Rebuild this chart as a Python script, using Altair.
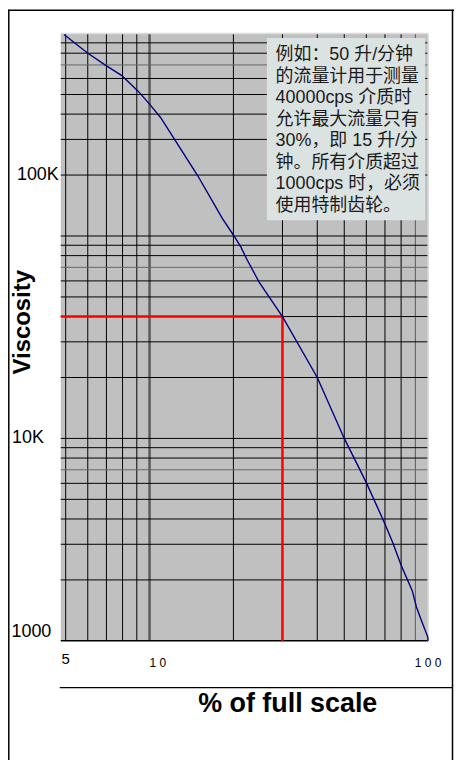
import altair as alt
import pandas as pd

# ---- data ----
pct = [4.93, 5.97, 6.96, 7.93, 9.08, 10.0, 10.95, 12.28, 14.88, 18.27, 20.1,
       21.26, 22.44, 24.7, 30.0, 40.0, 50.0, 60.0, 70.0, 75.0, 80.0, 87.7,
       90.8, 94.6, 99.6, 100.0]
visc = [990000, 804000, 697000, 622000, 521000, 448000, 385000, 301000, 199000,
        122000, 100000, 88300, 75900, 59400, 40000, 20000, 10000, 6050, 3780,
        3010, 2360, 1770, 1470, 1260, 1050, 1000]

x_grid = [5, 6, 7, 8, 9, 10, 20, 30, 40, 50, 60, 70, 80, 90]
y_grid = [1000, 2000, 3000, 4000, 5000, 6000, 7000, 8000, 9000,
          10000, 20000, 30000, 40000, 50000, 60000, 70000, 80000, 90000,
          100000, 200000, 300000, 400000, 500000, 600000, 700000, 800000, 900000]
x_edge = [100]
y_edge = [1000000]

red_x = [4.8, 30, 30]
red_y = [40000, 40000, 1000]

x_ticks = [5, 10, 100]
x_tick_labels = ["5", "1 0", "1 0 0"]
y_ticks = [1000, 10000, 200000]
y_tick_labels = ["1000", "10K", "100K"]

x_title = "% of full scale"
y_title = "Viscosity"

note_lines = [
    "例如：50 升/分钟",
    "的流量计用于测量",
    "40000cps 介质时",
    "允许最大流量只有",
    "30%，即 15 升/分",
    "钟。所有介质超过",
    "1000cps 时，必须",
    "使用特制齿轮。",
]

X_DOMAIN = [4.8, 100]
Y_DOMAIN = [1000, 1000000]
FONT = "Liberation Sans"

xs = alt.Scale(type="log", domain=X_DOMAIN, nice=False)
ys = alt.Scale(type="log", domain=Y_DOMAIN, nice=False)

# ---- grid ----
vgrid = alt.Chart(pd.DataFrame({"gx": x_grid})).mark_rule().encode(
    x=alt.X("gx:Q", scale=xs, axis=None),
    color=alt.condition("datum.gx == 10 || datum.gx == 90", alt.value("#5a5a5a"), alt.value("black")),
    strokeWidth=alt.condition("datum.gx == 10", alt.value(2.5), alt.value(1)),
)
vedge = alt.Chart(pd.DataFrame({"gx": x_edge})).mark_rule(color="#d8d8d8", strokeWidth=1.5).encode(
    x=alt.X("gx:Q", scale=xs, axis=None),
)
hgrid = alt.Chart(pd.DataFrame({"gy": y_grid})).mark_rule().encode(
    y=alt.Y("gy:Q", scale=ys, axis=None),
    color=alt.condition("datum.gy == 7000 || datum.gy == 70000 || datum.gy == 700000",
                        alt.value("#666666"), alt.value("black")),
    strokeWidth=alt.condition("datum.gy == 1000", alt.value(1.5), alt.value(1)),
)
hedge = alt.Chart(pd.DataFrame({"gy": y_edge})).mark_rule(color="#dcdcdc", strokeWidth=1.5).encode(
    y=alt.Y("gy:Q", scale=ys, axis=None),
)

# ---- data marks ----
curve = alt.Chart(pd.DataFrame({"pct": pct, "visc": visc})).mark_line(
    color="#000080", strokeWidth=1.4).encode(
    x=alt.X("pct:Q", scale=xs, axis=None),
    y=alt.Y("visc:Q", scale=ys, axis=None),
)

red = alt.Chart(pd.DataFrame({"rx": red_x, "ry": red_y, "k": list(range(len(red_x)))})).mark_line(
    color="#ff0000", strokeWidth=2.5).encode(
    x=alt.X("rx:Q", scale=xs, axis=None),
    y=alt.Y("ry:Q", scale=ys, axis=None),
    order="k:Q",
)

# ---- annotation ----
box = alt.Chart(pd.DataFrame({"bx": [26.38], "bx2": [97.56], "by": [952000], "by2": [119500]})).mark_rect(
    fill="#dae2e2").encode(
    x=alt.X("bx:Q", scale=xs, axis=None), x2="bx2:Q",
    y=alt.Y("by:Q", scale=ys, axis=None), y2="by2:Q",
)
note = alt.Chart(pd.DataFrame({"tx": [28.35], "ty": [783000]})).mark_text(
    text=note_lines, align="left", baseline="middle", lineHeight=21.6,
    font=f"{FONT}, Noto Sans CJK SC", fontSize=18, color="#1a1a1a").encode(
    x=alt.X("tx:Q", scale=xs, axis=None),
    y=alt.Y("ty:Q", scale=ys, axis=None),
)

# ---- tick labels (drawn as text at the scale positions) ----
y_label_style = [  # (right edge offset from plot, baseline)
    dict(x=-9.5, baseline="bottom"),
    dict(x=-17, baseline="middle"),
    dict(x=-2, baseline="middle"),
]
y_labels = [
    alt.Chart(pd.DataFrame({"v": [v], "t": [t]})).mark_text(
        align="right", baseline=s["baseline"], font=FONT, fontSize=18, color="black").encode(
        x=alt.value(s["x"]), y=alt.Y("v:Q", scale=ys, axis=None), text="t:N")
    for v, t, s in zip(y_ticks, y_tick_labels, y_label_style)
]
x_label_style = [
    dict(align="center", size=15, y=633.5),
    dict(align="left", size=12, y=636.5),
    dict(align="center", size=12, y=636.5),
]
x_labels = [
    alt.Chart(pd.DataFrame({"v": [v], "t": [t]})).mark_text(
        align=s["align"], baseline="alphabetic", font=FONT, fontSize=s["size"], color="black").encode(
        x=alt.X("v:Q", scale=xs, axis=None), y=alt.value(s["y"]), text="t:N")
    for v, t, s in zip(x_ticks, x_tick_labels, x_label_style)
]

frame_df = pd.DataFrame({"a": [0]})
x_title_mark = alt.Chart(frame_df).mark_text(
    text=x_title, align="center", baseline="alphabetic", font=FONT, fontSize=27,
    fontWeight="bold", color="black").encode(x=alt.value(228), y=alt.value(681))
y_title_mark = alt.Chart(frame_df).mark_text(
    text=y_title, align="center", baseline="alphabetic", angle=270, font=FONT, fontSize=24,
    fontWeight="bold", color="black").encode(x=alt.value(-31), y=alt.value(290))

# ---- panel frame ----
left_border = alt.Chart(frame_df).mark_rule(color="black", strokeWidth=1.5).encode(
    x=alt.value(-52.2), y=alt.value(-24), y2=alt.value(730))
top_border = alt.Chart(frame_df).mark_rule(color="black", strokeWidth=1.5).encode(
    x=alt.value(-53), x2=alt.value(395), y=alt.value(-23.5))
right_border = alt.Chart(frame_df).mark_rule(color="black", strokeWidth=1.5).encode(
    x=alt.value(393.5), y=alt.value(-24), y2=alt.value(730))
sep_line = alt.Chart(frame_df).mark_rule(color="black", strokeWidth=1.2).encode(
    x=alt.value(-1), x2=alt.value(394), y=alt.value(657))

chart = alt.layer(
    vgrid, hgrid, vedge, hedge, red, curve, box, note,
    *y_labels, *x_labels, x_title_mark, y_title_mark,
    left_border, top_border, right_border, sep_line,
).properties(
    width=369, height=610,
    padding={"left": 53, "top": 24, "right": 26, "bottom": 118},
    autosize=alt.AutoSizeParams(type="none"),
    background="white",
).configure_view(fill="#c0c0c0", stroke=None)

chart.save("out.html", embed_options={"renderer": "svg", "actions": False})
